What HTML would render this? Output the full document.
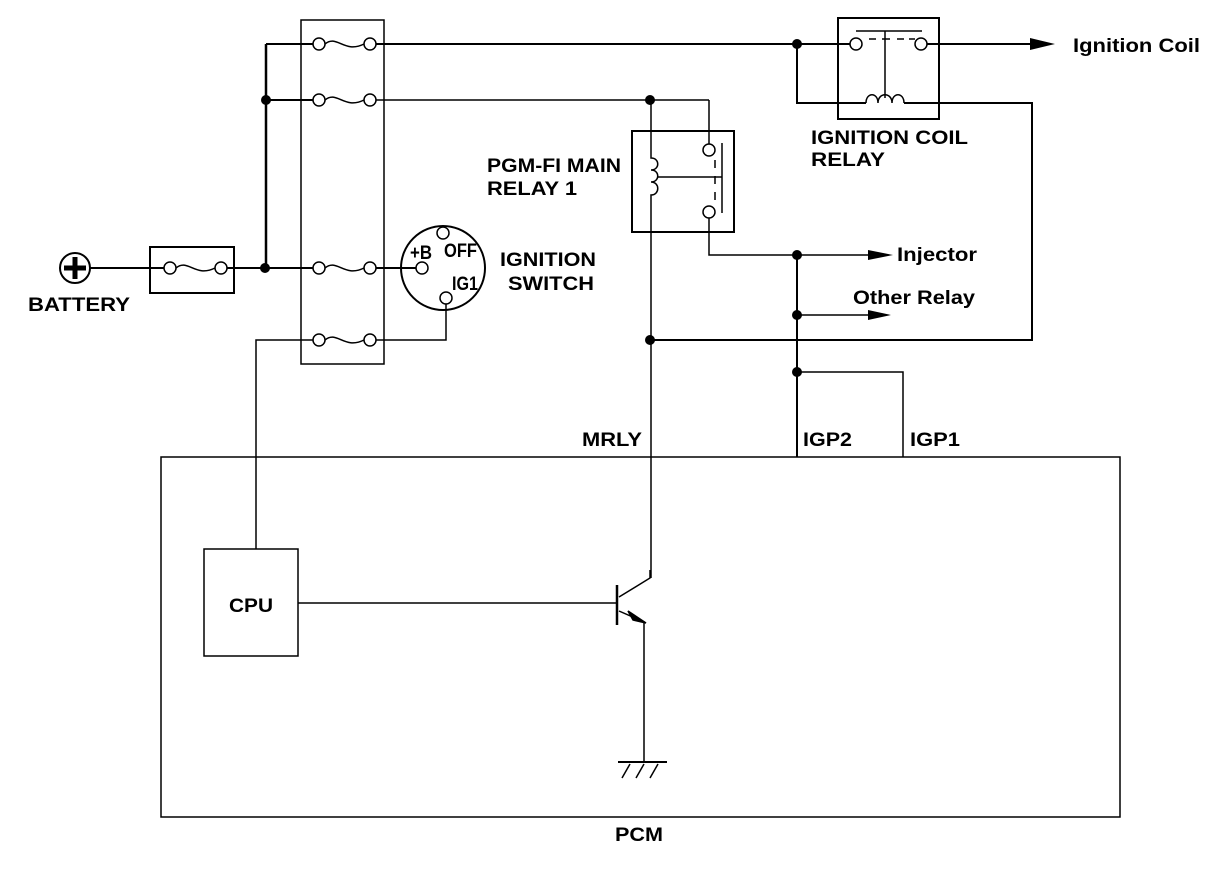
<!DOCTYPE html>
<html><head><style>body{margin:0;background:#fff}svg{display:block}text{font-family:"Liberation Sans",Arial,sans-serif;font-weight:bold;font-size:19px;fill:#000}</style></head>
<body>
<svg width="1216" height="874" viewBox="0 0 1216 874" fill="none" stroke="#000" stroke-width="1.5">
<!-- battery -->
<circle cx="75" cy="268" r="15" stroke-width="2"/>
<line x1="64" y1="268" x2="86" y2="268" stroke-width="5"/>
<line x1="75" y1="257" x2="75" y2="279" stroke-width="5"/>
<line x1="90" y1="268" x2="164" y2="268" stroke-width="2"/>
<rect x="150" y="247" width="84" height="46" stroke-width="2"/>
<circle cx="170" cy="268" r="6"/><circle cx="221" cy="268" r="6"/>
<path d="M176 268 C188 258 195 278 215 268"/>
<line x1="227" y1="268" x2="301" y2="268" stroke-width="2"/>
<!-- bus -->
<line x1="266" y1="44" x2="266" y2="268" stroke-width="2.5"/>
<line x1="266" y1="44" x2="313" y2="44" stroke-width="2"/>
<line x1="266" y1="100" x2="313" y2="100" stroke-width="2"/>
<g fill="#000" stroke="none">
<circle cx="266" cy="100" r="5"/><circle cx="265" cy="268" r="5"/>
<circle cx="797" cy="44" r="5"/><circle cx="650" cy="100" r="5"/>
<circle cx="797" cy="255" r="5"/><circle cx="797" cy="315" r="5"/>
<circle cx="797" cy="372" r="5"/><circle cx="650" cy="340" r="5"/>
</g>
<!-- fuse block -->
<rect x="301" y="20" width="83" height="344" stroke-width="1.5"/>
<g>
<circle cx="319" cy="44" r="6"/><circle cx="370" cy="44" r="6"/><path d="M325 44 C337 34 344 54 364 44"/>
<circle cx="319" cy="100" r="6"/><circle cx="370" cy="100" r="6"/><path d="M325 100 C337 90 344 110 364 100"/>
<circle cx="319" cy="268" r="6"/><circle cx="370" cy="268" r="6"/><path d="M325 268 C337 258 344 278 364 268"/>
<circle cx="319" cy="340" r="6"/><circle cx="370" cy="340" r="6"/><path d="M325 340 C337 330 344 350 364 340"/>
</g>
<line x1="301" y1="268" x2="313" y2="268" stroke-width="2"/>
<line x1="376" y1="268" x2="416" y2="268" stroke-width="2"/>
<line x1="376" y1="44" x2="850" y2="44" stroke-width="2"/>
<line x1="376" y1="100" x2="709" y2="100"/>
<!-- ignition switch -->
<circle cx="443" cy="268" r="42" stroke-width="2"/>
<circle cx="422" cy="268" r="6"/><circle cx="443" cy="233" r="6"/><circle cx="446" cy="298" r="6"/>
<polyline points="446,304 446,340 376,340"/>
<polyline points="313,340 256,340 256,549"/>
<!-- ignition coil relay -->
<rect x="838" y="18" width="101" height="101" stroke-width="2"/>
<circle cx="856" cy="44" r="6"/><circle cx="921" cy="44" r="6"/>
<line x1="856" y1="31" x2="922" y2="31"/>
<line x1="869" y1="39" x2="876" y2="39"/><line x1="882" y1="39" x2="890" y2="39"/><line x1="897" y1="39" x2="904" y2="39"/><line x1="909" y1="39" x2="915" y2="39"/>
<line x1="885" y1="31" x2="885" y2="98"/>
<polyline points="797,44 797,103 866,103" stroke-width="2"/>
<path d="M866 103 C866 92 878 92 878 103 C878 92 892 92 892 103 C892 92 904 92 904 103"/>
<polyline points="904,103 1032,103 1032,340 650,340" stroke-width="2"/>
<line x1="927" y1="44" x2="1035" y2="44" stroke-width="2"/>
<polygon points="1030,38 1055,44 1030,50" fill="#000" stroke="none"/>
<!-- PGM relay -->
<rect x="632" y="131" width="102" height="101" stroke-width="2"/>
<polyline points="709,100 709,144"/>
<circle cx="709" cy="150" r="6"/><circle cx="709" cy="212" r="6"/>
<line x1="722" y1="143" x2="722" y2="213"/>
<line x1="715" y1="160" x2="715" y2="168"/><line x1="715" y1="176" x2="715" y2="184"/><line x1="715" y1="192" x2="715" y2="200"/>
<line x1="658" y1="177" x2="722" y2="177"/>
<path d="M651 100 L651 158 C660 158 660 170 651 170 C660 170 660 182 651 182 C660 182 660 195 651 195 L651 578"/>
<polyline points="709,218 709,255 880,255"/>
<polygon points="868,250 893,255 868,260" fill="#000" stroke="none"/>
<line x1="797" y1="255" x2="797" y2="457" stroke-width="2"/>
<line x1="797" y1="315" x2="880" y2="315"/>
<polygon points="868,310 891,315 868,320" fill="#000" stroke="none"/>
<polyline points="797,372 903,372 903,457"/>
<!-- PCM -->
<rect x="161" y="457" width="959" height="360"/>
<rect x="204" y="549" width="94" height="107"/>
<line x1="298" y1="603" x2="617" y2="603"/>
<line x1="617" y1="585" x2="617" y2="625" stroke-width="2.5"/>
<polyline points="619,597 650,578 650,570"/>
<polyline points="619,611 644,622 644,762"/>
<polygon points="628,611 646,623 633,620" fill="#000" stroke="#000"/>
<line x1="618" y1="762" x2="667" y2="762" stroke-width="2"/>
<line x1="630" y1="764" x2="622" y2="778"/><line x1="644" y1="764" x2="636" y2="778"/><line x1="658" y1="764" x2="650" y2="778"/>
<g stroke="none">
<text x="1073" y="52" textLength="127" lengthAdjust="spacingAndGlyphs">Ignition Coil</text>
<text x="811" y="144" textLength="157" lengthAdjust="spacingAndGlyphs">IGNITION COIL</text>
<text x="811" y="166" textLength="74" lengthAdjust="spacingAndGlyphs">RELAY</text>
<text x="487" y="172" textLength="134" lengthAdjust="spacingAndGlyphs">PGM-FI MAIN</text>
<text x="487" y="195" textLength="90" lengthAdjust="spacingAndGlyphs">RELAY 1</text>
<text x="897" y="261" textLength="80" lengthAdjust="spacingAndGlyphs">Injector</text>
<text x="853" y="304" textLength="122" lengthAdjust="spacingAndGlyphs">Other Relay</text>
<text x="500" y="266" textLength="96" lengthAdjust="spacingAndGlyphs">IGNITION</text>
<text x="508" y="290" textLength="86" lengthAdjust="spacingAndGlyphs">SWITCH</text>
<text x="28" y="311" textLength="102" lengthAdjust="spacingAndGlyphs">BATTERY</text>
<text x="410" y="259" font-size="14" textLength="22" lengthAdjust="spacingAndGlyphs">+B</text>
<text x="444" y="257" font-size="14" textLength="33" lengthAdjust="spacingAndGlyphs">OFF</text>
<text x="452" y="290" font-size="14" textLength="26" lengthAdjust="spacingAndGlyphs">IG1</text>
<text x="582" y="446" textLength="60" lengthAdjust="spacingAndGlyphs">MRLY</text>
<text x="803" y="446" textLength="49" lengthAdjust="spacingAndGlyphs">IGP2</text>
<text x="910" y="446" textLength="50" lengthAdjust="spacingAndGlyphs">IGP1</text>
<text x="229" y="612" textLength="44" lengthAdjust="spacingAndGlyphs">CPU</text>
<text x="615" y="841" textLength="48" lengthAdjust="spacingAndGlyphs">PCM</text>
</g>
</svg>
</body></html>
